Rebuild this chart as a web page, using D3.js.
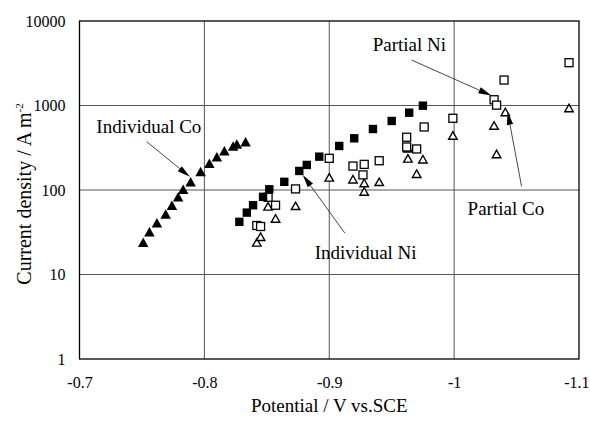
<!DOCTYPE html>
<html>
<head>
<meta charset="utf-8">
<script src="https://cdn.jsdelivr.net/npm/d3@7/dist/d3.min.js"></script>
<style>
  html, body { margin: 0; padding: 0; background: #fff; }
  svg { display: block; }
  text { font-family: "Liberation Serif", "Times New Roman", serif; fill: #000; }
</style>
</head>
<body>
<svg id="chart" width="590" height="425"></svg>
<script>
// Potential (V vs. SCE) and current density (A m^-2) for each series
const indCoV = [-0.751, -0.756, -0.762, -0.769, -0.774, -0.779, -0.783, -0.789, -0.797, -0.804, -0.810, -0.816, -0.823, -0.826, -0.833];
const indCoI = [24, 32, 41, 52, 66, 83, 102, 125, 165, 207, 248, 292, 332, 350, 373];

const indNiV = [-0.828, -0.834, -0.839, -0.847, -0.852, -0.864, -0.876, -0.882, -0.892, -0.908, -0.920, -0.935, -0.950, -0.964, -0.975];
const indNiI = [42, 54, 66, 83, 102, 125, 168, 198, 248, 332, 409, 527, 656, 822, 995];

const parNiV = [-0.842, -0.845, -0.851, -0.857, -0.873, -0.900, -0.919, -0.928, -0.927, -0.940, -0.962, -0.962, -0.970, -0.976, -0.999, -1.032, -1.034, -1.040, -1.092];
const parNiI = [38, 37, 82, 66, 103, 237, 192, 201, 151, 222, 421, 323, 306, 557, 706, 1170, 1010, 2000, 3210];

const parCoV = [-0.842, -0.845, -0.851, -0.857, -0.873, -0.900, -0.919, -0.928, -0.928, -0.940, -0.963, -0.963, -0.970, -0.975, -0.999, -1.032, -1.034, -1.041, -1.092];
const parCoI = [24, 28, 64, 46, 65, 141, 134, 121, 96, 125, 312, 237, 156, 231, 442, 580, 267, 838, 934];

const xTicks = [-0.7, -0.8, -0.9, -1.0, -1.1];
const xTickLabels = ["-0.7", "-0.8", "-0.9", "-1", "-1.1"];
const yTicks = [1, 10, 100, 1000, 10000];
const yTickLabels = ["1", "10", "100", "1000", "10000"];

// Annotation labels: text, anchor point (V, I), arrow tail (V, I), arrow tip (V, I)
const noteText = ["Individual Co", "Individual Ni", "Partial Ni", "Partial Co"];
const noteAt = [[-0.7135, 470], [-0.8884, 15.3], [-0.9348, 4400], [-1.0108, 50.6]];
const arrowFrom = [[-0.7538, 373], [-0.9124, 31], [-0.966, 3450], [-1.054, 111]];
const arrowTo = [[-0.7884, 143], [-0.8788, 151], [-1.0298, 1310], [-1.0428, 840]];

const svg = d3.select("#chart");
const plotLeft = 79.5, plotRight = 579, plotTop = 21, plotBottom = 359;

const x = d3.scaleLinear().domain([-0.7, -1.1]).range([plotLeft, plotRight]);
const y = d3.scaleLog().domain([1, 10000]).range([plotBottom, plotTop]);

// grid lines
const grid = svg.append("g").attr("stroke", "#555").attr("stroke-width", 1);
grid.selectAll("line.gx").data(xTicks.slice(1, -1)).join("line")
  .attr("x1", d => x(d)).attr("x2", d => x(d))
  .attr("y1", plotTop).attr("y2", plotBottom);
grid.selectAll("line.gy").data(yTicks.slice(1, -1)).join("line")
  .attr("x1", plotLeft).attr("x2", plotRight)
  .attr("y1", d => y(d)).attr("y2", d => y(d));

// plot frame
svg.append("rect")
  .attr("x", plotLeft).attr("y", plotTop)
  .attr("width", plotRight - plotLeft).attr("height", plotBottom - plotTop)
  .attr("fill", "none").attr("stroke", "#000").attr("stroke-width", 1.3);

// axes (labels only, no tick marks)
const xAxis = d3.axisBottom(x).tickValues(xTicks)
  .tickFormat((d, i) => xTickLabels[i]).tickSize(0).tickPadding(18);
const gx = svg.append("g").attr("transform", `translate(0,${plotBottom})`).call(xAxis);
gx.select(".domain").remove();
gx.selectAll("text").attr("font-size", 16).attr("font-family", "Liberation Serif");
// keep the last label inside the page edge
gx.selectAll(".tick").filter(d => d === -1.1).select("text")
  .attr("text-anchor", "end").attr("x", 10);

const yAxis = d3.axisLeft(y).tickValues(yTicks)
  .tickFormat((d, i) => yTickLabels[i]).tickSize(0).tickPadding(14);
const gy = svg.append("g").attr("transform", `translate(${plotLeft},0)`).call(yAxis);
gy.select(".domain").remove();
gy.selectAll("text").attr("font-size", 16).attr("font-family", "Liberation Serif");

// axis titles
svg.append("text")
  .attr("x", (plotLeft + plotRight) / 2).attr("y", 412)
  .attr("text-anchor", "middle").attr("font-size", 19)
  .text("Potential / V vs.SCE");

const yt = svg.append("text")
  .attr("transform", `translate(31,${(plotTop + plotBottom) / 2 + 4}) rotate(-90)`)
  .attr("text-anchor", "middle").attr("font-size", 20);
yt.append("tspan").text("Current density / A m");
yt.append("tspan").attr("dy", -8).attr("font-size", 11).text("-2");

// markers
const tri = (w, h) => `M0,${-h / 2}L${w / 2},${h / 2}L${-w / 2},${h / 2}Z`;
const pts = (vs, is) => vs.map((v, i) => [v, is[i]]);

const marks = svg.append("g");

marks.append("g").selectAll("path").data(pts(parCoV, parCoI)).join("path")
  .attr("d", tri(8.5, 7.5))
  .attr("transform", d => `translate(${x(d[0])},${y(d[1])})`)
  .attr("fill", "#fff").attr("stroke", "#000").attr("stroke-width", 1.4);

marks.append("g").selectAll("rect").data(pts(parNiV, parNiI)).join("rect")
  .attr("x", d => x(d[0]) - 4).attr("y", d => y(d[1]) - 4)
  .attr("width", 8).attr("height", 8)
  .attr("fill", "#fff").attr("stroke", "#000").attr("stroke-width", 1.3);

marks.append("g").selectAll("rect").data(pts(indNiV, indNiI)).join("rect")
  .attr("x", d => x(d[0]) - 4.2).attr("y", d => y(d[1]) - 4.2)
  .attr("width", 8.4).attr("height", 8.4)
  .attr("fill", "#000");

marks.append("g").selectAll("path").data(pts(indCoV, indCoI)).join("path")
  .attr("d", tri(10.5, 9.5))
  .attr("transform", d => `translate(${x(d[0])},${y(d[1])})`)
  .attr("fill", "#000");

// annotation arrows
const notes = svg.append("g");
noteText.forEach((t, i) => {
  const x1 = x(arrowFrom[i][0]), y1 = y(arrowFrom[i][1]);
  const x2 = x(arrowTo[i][0]), y2 = y(arrowTo[i][1]);
  const ang = Math.atan2(y2 - y1, x2 - x1);
  const len = 13, half = 3.2;
  const bx = x2 - len * Math.cos(ang), by = y2 - len * Math.sin(ang);
  notes.append("line")
    .attr("x1", x1).attr("y1", y1).attr("x2", bx).attr("y2", by)
    .attr("stroke", "#333").attr("stroke-width", 0.9);
  const px = -Math.sin(ang) * half, py = Math.cos(ang) * half;
  notes.append("path")
    .attr("d", `M${x2},${y2}L${bx + px},${by + py}L${bx - px},${by - py}Z`)
    .attr("fill", "#000");
  notes.append("text")
    .attr("x", x(noteAt[i][0])).attr("y", y(noteAt[i][1]))
    .attr("font-size", 19).text(t);
});
</script>
</body>
</html>
